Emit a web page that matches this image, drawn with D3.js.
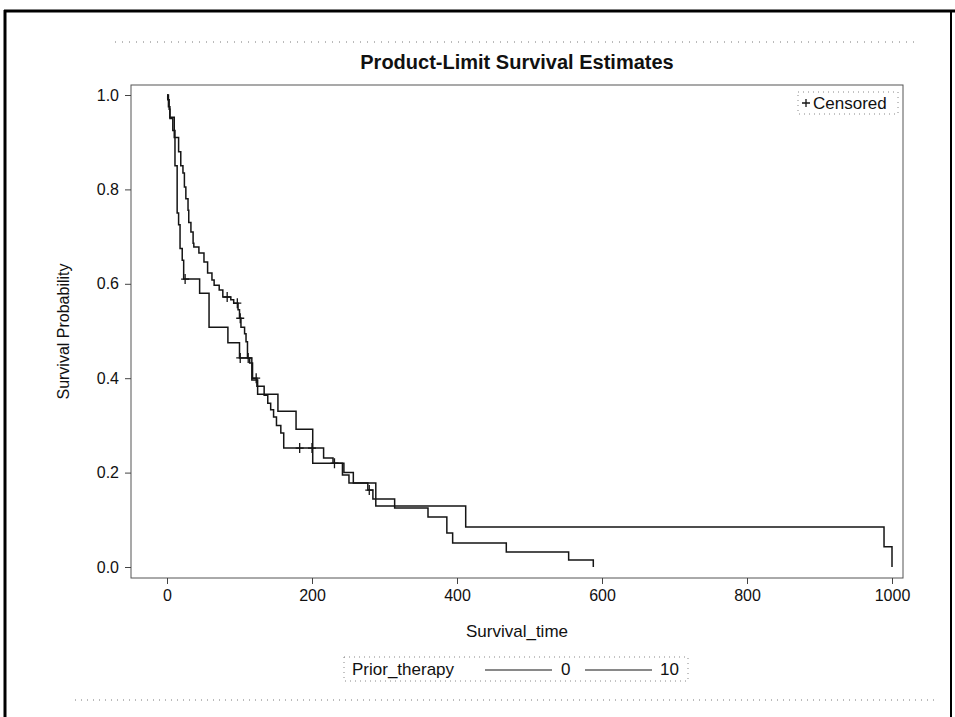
<!DOCTYPE html>
<html>
<head>
<meta charset="utf-8">
<script src="https://cdn.jsdelivr.net/npm/d3@7"></script>
<style>
  html, body { margin: 0; padding: 0; background: #fff; }
  svg { display: block; }
  text { font-family: "Liberation Sans", Arial, sans-serif; fill: #111; }
</style>
</head>
<body>
<svg id="chart" width="955" height="717"></svg>
<script>
// ---------------- DATA ----------------
const groupLabels = ["0", "10"];

// Prior_therapy = 0 : step times and survival after each step
const times0 = [0,1,3,4,10,16,19,22,24,26,29,30,33,36,37,44,51,56,62,65,72,77,88,92,98,100,102,107,109,111,114,118,124,134,139,143,147,151,157,161,216,229,242,251,277,284,314,360,386,394,468,554,588];
const surv0  = [1,0.99,0.97,0.953,0.91,0.88,0.85,0.835,0.805,0.78,0.756,0.73,0.71,0.686,0.678,0.665,0.646,0.623,0.608,0.597,0.587,0.572,0.566,0.559,0.545,0.527,0.508,0.494,0.477,0.443,0.432,0.40,0.383,0.364,0.347,0.333,0.318,0.30,0.284,0.252,0.231,0.22,0.195,0.178,0.163,0.144,0.125,0.106,0.072,0.051,0.032,0.015,0];
const censored0 = [83, 97, 101, 112, 123, 183, 200, 231, 279];

// Prior_therapy = 10
const times10 = [0,2,4,8,11,14,16,18,21,23,45,58,84,100,117,125,153,178,201,244,257,288,412,989,1000];
const surv10  = [1,0.975,0.95,0.925,0.85,0.75,0.725,0.675,0.65,0.61,0.58,0.508,0.475,0.443,0.396,0.366,0.33,0.292,0.22,0.20,0.178,0.129,0.085,0.043,0];
const censored10 = [25, 101];

const xTickValues = [0, 200, 400, 600, 800, 1000];
const yTickValues = [0, 0.2, 0.4, 0.6, 0.8, 1.0];

// ---------------- LAYOUT ----------------
const svg = d3.select("#chart");
const frame = { left: 131, right: 903, top: 85, bottom: 578 };
const x = d3.scaleLinear().domain([0, 1000]).range([167, 892]);
const y = d3.scaleLinear().domain([0, 1]).range([567, 95]);
const ink = "#151515";

svg.append("rect").attr("width", 955).attr("height", 717).attr("fill", "#fff");

// scanned page border
svg.append("line").attr("x1", 4).attr("x2", 955).attr("y1", 11).attr("y2", 11)
  .attr("stroke", "#000").attr("stroke-width", 3);
svg.append("line").attr("x1", 5).attr("x2", 5).attr("y1", 10).attr("y2", 717)
  .attr("stroke", "#000").attr("stroke-width", 3);
svg.append("line").attr("x1", 951).attr("x2", 951).attr("y1", 10).attr("y2", 717)
  .attr("stroke", "#000").attr("stroke-width", 2);

// dotted graph-area borders
svg.append("line").attr("x1", 115).attr("x2", 920).attr("y1", 42).attr("y2", 42)
  .attr("stroke", "#777").attr("stroke-width", 1).attr("stroke-dasharray", "1,6");
svg.append("line").attr("x1", 75).attr("x2", 935).attr("y1", 700).attr("y2", 700)
  .attr("stroke", "#777").attr("stroke-width", 1).attr("stroke-dasharray", "1,5");

// title
svg.append("text").attr("x", (frame.left + frame.right) / 2).attr("y", 69)
  .attr("text-anchor", "middle").attr("font-size", 20).attr("font-weight", "bold")
  .text("Product-Limit Survival Estimates");

// plot frame
svg.append("rect").attr("x", frame.left).attr("y", frame.top)
  .attr("width", frame.right - frame.left).attr("height", frame.bottom - frame.top)
  .attr("fill", "none").attr("stroke", "#555").attr("stroke-width", 1);

// axes
const xAxis = svg.append("g").attr("transform", `translate(0,${frame.bottom})`)
  .call(d3.axisBottom(x).tickValues(xTickValues).tickSize(6).tickPadding(6).tickFormat(d3.format("d")));
const yAxis = svg.append("g").attr("transform", `translate(${frame.left},0)`)
  .call(d3.axisLeft(y).tickValues(yTickValues).tickSize(6).tickPadding(6).tickFormat(d3.format(".1f")));
[xAxis, yAxis].forEach(g => {
  g.select(".domain").remove();
  g.selectAll(".tick line").attr("stroke", "#444");
  g.selectAll(".tick text").attr("font-size", 16).attr("fill", "#111")
    .attr("font-family", "\"Liberation Sans\", Arial, sans-serif");
});

// axis labels
svg.append("text").attr("x", (frame.left + frame.right) / 2).attr("y", 637)
  .attr("text-anchor", "middle").attr("font-size", 17).text("Survival_time");
svg.append("text").attr("transform", `translate(69,${(frame.top + frame.bottom) / 2}) rotate(-90)`)
  .attr("text-anchor", "middle").attr("font-size", 16).text("Survival Probability");

// curves
const series = [
  { label: groupLabels[0], t: times0, s: surv0, c: censored0 },
  { label: groupLabels[1], t: times10, s: surv10, c: censored10 }
];
const line = d3.line().x(d => x(d[0])).y(d => y(d[1])).curve(d3.curveStepAfter);
const plot = svg.append("g");
function survAt(ser, t) {
  const i = d3.bisectRight(ser.t, t) - 1;
  return ser.s[Math.max(0, i)];
}
series.forEach(ser => {
  const pts = ser.t.map((t, i) => [t, ser.s[i]]);
  plot.append("path").datum(pts).attr("d", line)
    .attr("fill", "none").attr("stroke", ink).attr("stroke-width", 1.5);
  plot.selectAll(null).data(ser.c).enter().append("path")
    .attr("d", d => {
      const cx = x(d), cy = y(survAt(ser, d));
      return `M${cx - 4},${cy}H${cx + 4}M${cx},${cy - 5}V${cy + 5}`;
    })
    .attr("stroke", ink).attr("stroke-width", 1.3).attr("fill", "none");
});

// censored legend (inset)
svg.append("rect").attr("x", 798).attr("y", 92).attr("width", 100).attr("height", 22)
  .attr("fill", "none").attr("stroke", "#888").attr("stroke-width", 1).attr("stroke-dasharray", "1,4");
svg.append("path").attr("d", "M802,103H810M806,99V107").attr("stroke", ink).attr("stroke-width", 1.3);
svg.append("text").attr("x", 813).attr("y", 109).attr("font-size", 17).text("Censored");

// bottom legend
const lg = svg.append("g");
lg.append("rect").attr("x", 344).attr("y", 657).attr("width", 344).attr("height", 24)
  .attr("fill", "none").attr("stroke", "#888").attr("stroke-width", 1).attr("stroke-dasharray", "1,4");
lg.append("text").attr("x", 352).attr("y", 675).attr("font-size", 17).text("Prior_therapy");
const legendItems = [
  { label: groupLabels[0], x1: 485, x2: 552, tx: 561 },
  { label: groupLabels[1], x1: 585, x2: 652, tx: 660 }
];
legendItems.forEach(it => {
  lg.append("line").attr("x1", it.x1).attr("x2", it.x2).attr("y1", 670).attr("y2", 670)
    .attr("stroke", ink).attr("stroke-width", 1.2);
  lg.append("text").attr("x", it.tx).attr("y", 675).attr("font-size", 17).text(it.label);
});
</script>
</body>
</html>
